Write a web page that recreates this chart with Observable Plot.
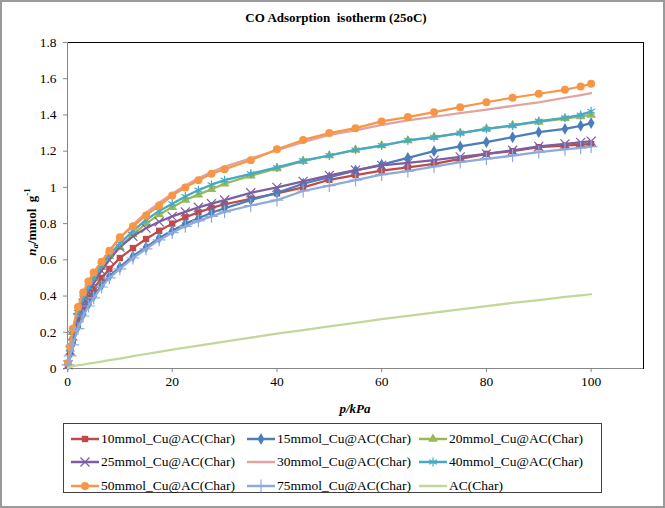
<!DOCTYPE html>
<html><head><meta charset="utf-8">
<script src="https://cdn.jsdelivr.net/npm/d3@7"></script>
<script src="https://cdn.jsdelivr.net/npm/@observablehq/plot@0.6"></script>
<style>
body{margin:0;background:#fff;}
#wrap{position:relative;width:665px;height:508px;font-family:"Liberation Serif","Times New Roman",serif;overflow:hidden;background:#fff;}
#outer{position:absolute;left:0;top:0;width:665px;height:508px;box-sizing:border-box;border:2px solid #9a9a9a;pointer-events:none;}
#title{position:absolute;left:336px;top:10px;transform:translateX(-50%);font-weight:bold;font-size:13px;white-space:pre;color:#000;}
#chart{position:absolute;left:0;top:30px;}
#ylab{position:absolute;left:31px;top:222px;transform:translate(-50%,-50%) rotate(-90deg);font-weight:bold;font-size:13px;white-space:nowrap;color:#000;}
#ylab sub{font-size:9px;vertical-align:-2px;}
#ylab sup{font-size:9px;vertical-align:6px;}
#xlab{position:absolute;left:355px;top:409px;transform:translate(-50%,-50%);font-weight:bold;font-style:italic;font-size:13px;white-space:nowrap;color:#000;}
#legend{position:absolute;left:63px;top:423px;width:539px;height:70px;box-sizing:border-box;border:1px solid #404040;display:grid;grid-template-columns:176px 172px auto;grid-auto-rows:23.5px;padding:3px 0 0 6px;font-size:13.5px;color:#000;}
.item{display:flex;align-items:center;white-space:nowrap;}
.item svg{margin-right:1px;flex:none;}
</style></head><body>
<div id="wrap">
 <div id="title">CO Adsorption  isotherm (25oC)</div>
 <div id="chart"></div>
 <div id="ylab"><i>n</i><sub><i>a</i></sub>/mmol&nbsp; g<sup>-1</sup></div>
 <div id="xlab">p/kPa</div>
 <div id="legend"></div>
 <div id="outer"></div>
</div>
<script>
const P = [0.1, 0.5, 1, 2, 3, 4, 5, 6.5, 8, 10, 12.5, 15, 17.5, 20, 22.5, 25, 27.5, 30, 35, 40, 45, 50, 55, 60, 65, 70, 75, 80, 85, 90, 95, 98, 100];
const s10 = [0.02, 0.09, 0.16, 0.26, 0.33, 0.39, 0.44, 0.50, 0.55, 0.61, 0.665, 0.715, 0.76, 0.80, 0.835, 0.862, 0.887, 0.907, 0.937, 0.967, 1.0, 1.042, 1.068, 1.093, 1.11, 1.13, 1.157, 1.185, 1.20, 1.222, 1.23, 1.236, 1.24];
const s15 = [0.02, 0.08, 0.14, 0.23, 0.30, 0.355, 0.40, 0.46, 0.51, 0.56, 0.62, 0.67, 0.72, 0.76, 0.80, 0.83, 0.86, 0.885, 0.93, 0.97, 1.02, 1.056, 1.093, 1.126, 1.163, 1.20, 1.226, 1.25, 1.277, 1.305, 1.323, 1.34, 1.355];
const s20 = [0.03, 0.11, 0.20, 0.31, 0.39, 0.45, 0.50, 0.56, 0.62, 0.67, 0.74, 0.80, 0.85, 0.89, 0.93, 0.96, 0.99, 1.02, 1.065, 1.105, 1.145, 1.176, 1.207, 1.231, 1.259, 1.277, 1.30, 1.323, 1.342, 1.362, 1.38, 1.392, 1.40];
const s25 = [0.02, 0.10, 0.18, 0.28, 0.36, 0.42, 0.47, 0.54, 0.60, 0.67, 0.73, 0.775, 0.81, 0.84, 0.865, 0.89, 0.91, 0.93, 0.97, 1.0, 1.033, 1.066, 1.095, 1.121, 1.135, 1.15, 1.168, 1.185, 1.205, 1.226, 1.24, 1.248, 1.255];
const s30 = [0.03, 0.12, 0.21, 0.33, 0.41, 0.47, 0.52, 0.59, 0.65, 0.72, 0.795, 0.86, 0.915, 0.965, 1.01, 1.05, 1.085, 1.115, 1.16, 1.205, 1.25, 1.29, 1.315, 1.345, 1.37, 1.39, 1.41, 1.43, 1.45, 1.47, 1.495, 1.51, 1.52];
const s40 = [0.03, 0.11, 0.20, 0.31, 0.39, 0.45, 0.50, 0.57, 0.63, 0.69, 0.76, 0.82, 0.87, 0.91, 0.95, 0.985, 1.015, 1.04, 1.075, 1.11, 1.148, 1.176, 1.207, 1.231, 1.259, 1.277, 1.30, 1.323, 1.342, 1.366, 1.384, 1.40, 1.42];
const s50 = [0.03, 0.12, 0.22, 0.34, 0.42, 0.48, 0.53, 0.59, 0.65, 0.725, 0.785, 0.845, 0.90, 0.955, 1.0, 1.04, 1.075, 1.10, 1.15, 1.21, 1.262, 1.30, 1.327, 1.364, 1.388, 1.415, 1.443, 1.47, 1.495, 1.517, 1.539, 1.557, 1.572];
const s75 = [0.02, 0.07, 0.13, 0.22, 0.29, 0.345, 0.39, 0.45, 0.50, 0.55, 0.61, 0.66, 0.71, 0.75, 0.785, 0.815, 0.84, 0.865, 0.90, 0.93, 0.98, 1.01, 1.04, 1.07, 1.09, 1.115, 1.14, 1.158, 1.175, 1.195, 1.21, 1.218, 1.225];
const sAC = [0.003, 0.008, 0.012, 0.018, 0.022, 0.027, 0.031, 0.038, 0.046, 0.055, 0.068, 0.08, 0.092, 0.104, 0.115, 0.126, 0.137, 0.148, 0.17, 0.192, 0.212, 0.232, 0.252, 0.272, 0.29, 0.308, 0.326, 0.345, 0.362, 0.378, 0.395, 0.404, 0.41];

const names = ["10mmol_Cu@AC(Char)", "15mmol_Cu@AC(Char)", "20mmol_Cu@AC(Char)", "25mmol_Cu@AC(Char)", "30mmol_Cu@AC(Char)", "40mmol_Cu@AC(Char)", "50mmol_Cu@AC(Char)", "75mmol_Cu@AC(Char)", "AC(Char)"];
const colors = ["#BE4B48", "#4A7EBB", "#98B954", "#7D5FA0", "#E0A3A1", "#46AAC5", "#F79646", "#8EAADB", "#C3D69B"];
const symbols = ["square", "diamond", "triangle", "times", null, "asterisk", "circle", "plus", null];
const values = [s10, s15, s20, s25, s30, s40, s50, s75, sAC];
const xTicks = [0, 20, 40, 60, 80, 100];
const yTicks = [0, 0.2, 0.4, 0.6, 0.8, 1, 1.2, 1.4, 1.6, 1.8];

const strokeSyms = new Set(["times", "asterisk", "plus"]);
const R = 3.6;

const rows = names.flatMap((n, i) => P.map((p, j) => ({series: n, k: i, p, q: values[i][j]})));

const marks = [
  Plot.frame({stroke: "#000", strokeWidth: 1}),
  Plot.ruleX([0], {stroke: "#868686"}),
  Plot.ruleY([0], {stroke: "#868686"}),
  Plot.axisX({ticks: xTicks, tickSize: 4, tickPadding: 4, stroke: "#868686", fill: "#000", label: null, tickFormat: d => String(d)}),
  Plot.axisY({ticks: yTicks, tickSize: 4, tickPadding: 7, stroke: "#868686", fill: "#000", label: null, tickFormat: d => String(d)})
];
names.forEach((n, i) => {
  const d = rows.filter(r => r.k === i);
  marks.push(Plot.line(d, {x: "p", y: "q", stroke: colors[i], strokeWidth: 2.25, curve: "linear"}));
  const s = symbols[i];
  if (s) {
    if (strokeSyms.has(s)) marks.push(Plot.dot(d, {x: "p", y: "q", symbol: s, r: R + 0.6, stroke: colors[i], strokeWidth: 1.2}));
    else marks.push(Plot.dot(d, {x: "p", y: "q", symbol: s, r: s === "circle" ? R + 0.4 : R, fill: colors[i], stroke: "none"}));
  }
});

const chart = Plot.plot({
  width: 665,
  height: 365,
  marginTop: 12,
  marginBottom: 27,
  marginLeft: 67,
  marginRight: 22,
  style: {fontFamily: "'Liberation Serif', 'Times New Roman', serif", fontSize: "13.5px", background: "transparent", color: "#000"},
  x: {domain: [0, 110]},
  y: {domain: [0, 1.8]},
  marks
});
document.getElementById("chart").appendChild(chart);

// legend
const symMap = {square: d3.symbolSquare, diamond: d3.symbolDiamond, triangle: d3.symbolTriangle, times: d3.symbolTimes, asterisk: d3.symbolAsterisk, circle: d3.symbolCircle, plus: d3.symbolPlus};
const leg = d3.select("#legend");
names.forEach((n, i) => {
  const it = leg.append("div").attr("class", "item");
  const sv = it.append("svg").attr("width", 30).attr("height", 14);
  sv.append("line").attr("x1", 1).attr("x2", 29).attr("y1", 7).attr("y2", 7).attr("stroke", colors[i]).attr("stroke-width", 2.5);
  const s = symbols[i];
  if (s) {
    const r = strokeSyms.has(s) ? R + 0.6 : (s === "circle" ? R + 0.4 : R);
    const path = d3.symbol(symMap[s], Math.PI * r * r)();
    const p = sv.append("path").attr("d", path).attr("transform", "translate(15,7)");
    if (strokeSyms.has(s)) p.attr("fill", "none").attr("stroke", colors[i]).attr("stroke-width", 1.2);
    else p.attr("fill", colors[i]);
  }
  it.append("span").text(n);
});
</script>
</body></html>
